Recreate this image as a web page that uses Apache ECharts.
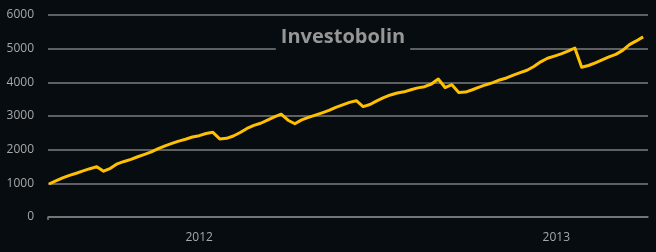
<!DOCTYPE html>
<html>
<head>
<meta charset="utf-8">
<script src="https://cdn.jsdelivr.net/npm/echarts@6/dist/echarts.min.js"></script>
<style>
html,body{margin:0;padding:0;background:#060c10;}
#chart{width:656px;height:252px;}
</style>
</head>
<body>
<div id="chart"></div>
<script>
// Weekly dates
var dates = [
  '2011-07-31','2011-08-07','2011-08-14','2011-08-21','2011-08-28','2011-09-04','2011-09-11','2011-09-18','2011-09-25',
  '2011-10-02','2011-10-09','2011-10-16','2011-10-23','2011-10-30','2011-11-06','2011-11-13','2011-11-20','2011-11-27',
  '2011-12-04','2011-12-11','2011-12-18','2011-12-25',
  '2012-01-01','2012-01-08','2012-01-15','2012-01-22','2012-01-29','2012-02-05','2012-02-12','2012-02-19','2012-02-26',
  '2012-03-04','2012-03-11','2012-03-18','2012-03-25','2012-04-01','2012-04-08','2012-04-15','2012-04-22','2012-04-29',
  '2012-05-06','2012-05-13','2012-05-20','2012-05-27','2012-06-03','2012-06-10','2012-06-17','2012-06-24',
  '2012-07-01','2012-07-08','2012-07-15','2012-07-22','2012-07-29','2012-08-05','2012-08-12','2012-08-19','2012-08-26',
  '2012-09-02','2012-09-09','2012-09-16','2012-09-23','2012-09-30','2012-10-07','2012-10-14','2012-10-21','2012-10-28',
  '2012-11-04','2012-11-11','2012-11-18','2012-11-25','2012-12-02','2012-12-09','2012-12-16','2012-12-23','2012-12-30',
  '2013-01-06','2013-01-13','2013-01-20','2013-01-27','2013-02-03','2013-02-10','2013-02-17','2013-02-24',
  '2013-03-03','2013-03-10','2013-03-17','2013-03-24','2013-03-31'
];
// Portfolio value
var values = [
  980,1075,1160,1235,1300,1370,1435,1495,1360,1445,
  1580,1650,1712,1790,1860,1935,2030,2115,2185,2255,
  2310,2375,2415,2480,2515,2320,2337,2406,2510,2630,
  2720,2785,2880,2975,3055,2875,2770,2885,2960,3028,
  3095,3165,3255,3330,3405,3455,3280,3340,3450,3545,
  3625,3685,3718,3780,3835,3870,3950,4100,3845,3930,
  3695,3710,3780,3860,3930,3990,4070,4130,4215,4290,
  4360,4470,4610,4715,4780,4845,4925,5020,4446,4500,
  4580,4670,4755,4830,4950,5120,5230,5350
];
var yTicks = [0,1000,2000,3000,4000,5000,6000];
var xAxisMin = '2011-07-30';
var xAxisMax = '2013-04-05';
var titleText = 'Investobolin';

var seriesData = dates.map(function(d, i){ return [d, values[i]]; });

var chart = echarts.init(document.getElementById('chart'), null, {renderer:'canvas'});
chart.setOption({
  backgroundColor: '#060c10',
  animation: false,
  title: {
    text: titleText,
    left: 338,
    top: 24,
    textAlign: 'center',
    padding: [3, 5, 6, 5],
    backgroundColor: '#060c10',
    z: 10,
    textStyle: {
      fontFamily: 'Open Sans',
      fontWeight: 'bold',
      fontSize: 20,
      color: '#969696'
    }
  },
  grid: { left: 48, right: 8, top: 15, bottom: 35, containLabel: false },
  xAxis: {
    type: 'time',
    min: xAxisMin,
    max: xAxisMax,
    axisLine: { show: true, lineStyle: { color: '#7c7c7c', width: 1.5 } },
    axisTick: { show: true, customValues: [xAxisMin], length: 3, lineStyle: { color: '#7c7c7c', width: 1.5 } },
    splitLine: { show: false },
    minorTick: { show: false },
    axisLabel: {
      color: '#a8a8a8',
      fontFamily: 'Open Sans',
      fontSize: 12,
      margin: 15,
      hideOverlap: false,
      formatter: function (val) {
        var d = new Date(val);
        if (d.getMonth() === 0 && d.getDate() === 1) return String(d.getFullYear());
        return '';
      }
    }
  },
  yAxis: {
    type: 'value',
    min: yTicks[0],
    max: yTicks[yTicks.length - 1],
    interval: 1000,
    axisLine: { show: false },
    axisTick: { show: false },
    splitLine: { show: true, lineStyle: { color: '#7c7c7c', width: 1.5 } },
    axisLabel: {
      color: '#a8a8a8',
      fontFamily: 'Open Sans',
      fontSize: 12,
      margin: 14,
      formatter: function (v) { return String(v); }
    }
  },
  series: [{
    type: 'line',
    data: seriesData,
    showSymbol: false,
    symbol: 'none',
    smooth: false,
    lineStyle: { color: '#FFC000', width: 3, join: 'round' },
    z: 3
  }]
});
</script>
</body>
</html>
